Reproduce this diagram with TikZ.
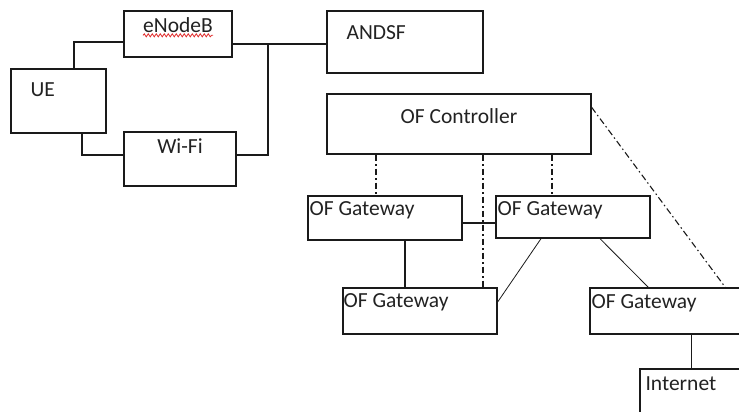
\documentclass[tikz,border=0pt]{standalone}
\usepackage{fontspec}
\setmainfont{Carlito}
\usetikzlibrary{positioning,decorations.pathmorphing}
\definecolor{boxline}{HTML}{1a1a1a}
\definecolor{textcolor}{HTML}{222222}
\definecolor{spellred}{HTML}{e03030}

\begin{document}
\begin{tikzpicture}[x=1pt, y=-1pt,
    box/.style = {draw = boxline, rectangle, line width = 1.3pt, inner sep = 0pt},
    txt/.style = {inner sep = 0pt, text = textcolor, font = \fontsize{21.5}{24}\selectfont},
    link/.style = {draw = boxline, line width = 1.1pt},
    ctl/.style = {draw = boxline, line width = 1.1pt, dash pattern = on 6.5pt off 3pt on 1.5pt off 3pt}]
        \useasboundingbox (0, 0) rectangle (739, 412);
        \clip (0, 0) rectangle (739, 412);

        % Nodes
        \node [box, minimum width = 95pt, minimum height = 64pt] (ue) at (58.5, 101) {};
        \node [box, minimum width = 108pt, minimum height = 46pt] (enb) at (178, 34) {};
        \node [box, minimum width = 112pt, minimum height = 54pt] (wifi) at (180, 159) {};
        \node [box, minimum width = 156pt, minimum height = 62pt] (andsf) at (405, 42) {};
        \node [box, minimum width = 264pt, minimum height = 60pt] (ctrl) at (459, 124) {};
        \node [box, minimum width = 154pt, minimum height = 44pt] (gw1) at (385, 218) {};
        \node [box, minimum width = 154pt, minimum height = 42pt] (gw2) at (573, 217) {};
        \node [box, minimum width = 154pt, minimum height = 46pt] (gw3) at (420, 311) {};
        \node [box, minimum width = 154pt, minimum height = 46pt] (gw4) at (667, 311) {};
        \node [box, minimum width = 120pt, minimum height = 46pt] (inet) at (700, 392) {};

        % Box texts
        \node [txt, anchor = north, below = 7pt of enb.north] (enbt) {eNodeB};
        \node [txt, below right = 14pt and 20pt of ue.north west] (uet) {UE};
        \node [txt, anchor = north, below = 7pt of wifi.north] (wifit) {Wi-Fi};
        \node [txt, below right = 15pt and 20pt of andsf.north west] (andsft) {ANDSF};
        \node [txt, anchor = north, below = 15pt of ctrl.north] (ctrlt) {OF Controller};
        \node [txt, below right = 6pt and 2pt of gw1.north west] (gw1t) {OF Gateway};
        \node [txt, below right = 6pt and 2pt of gw2.north west] (gw2t) {OF Gateway};
        \node [txt, below right = 6pt and 1pt of gw3.north west] (gw3t) {OF Gateway};
        \node [txt, below right = 7pt and 2pt of gw4.north west] (gw4t) {OF Gateway};
        \node [txt, below right = 8pt and 6pt of inet.north west] (inett) {Internet};

        % spell check mark under eNodeB
        \draw [spellred, line width = 0.8pt, decorate, decoration = {snake, amplitude = 1.5pt, segment length = 4pt}]
            ([yshift = -2.5pt]enbt.south west) -- ([yshift = -2.5pt]enbt.south east);

        % Access links
        \coordinate (tap) at (268, 44);
        \draw [link] ([xshift = 15.5pt]ue.north) |- ([yshift = -8pt]enb.west);
        \draw [link] ([xshift = 23.5pt]ue.south) |- ([yshift = 4pt]wifi.west);
        \draw [link] ([yshift = -10pt]enb.east) -- ([yshift = -2pt]andsf.west);
        \draw [link] ([yshift = 4pt]wifi.east) -| (tap);

        % Control links
        \draw [ctl] ([xshift = -83pt]ctrl.south) -- ([xshift = -9pt]gw1.north);
        \draw [ctl] ([xshift = 24pt]ctrl.south) -- ([xshift = 63pt]gw3.north);
        \draw [ctl] ([xshift = 93pt]ctrl.south) -- ([xshift = -21pt]gw2.north);
        \draw [ctl] ([yshift = -14pt]ctrl.north east) -- ([xshift = 136pt]gw4.north west);

        % Data links
        \draw [link] ([yshift = -5pt]gw1.east) -- ([yshift = -6pt]gw2.west);
        \draw [link] ([xshift = 20pt]gw1.south) -- ([xshift = -15pt]gw3.north);
        \draw [link, line width = 0.8pt] ([xshift = -32pt]gw2.south) -- ([yshift = 9pt]gw3.east);
        \draw [link, line width = 0.8pt] ([xshift = 27pt]gw2.south) -- ([xshift = 59pt]gw4.north west);
        \draw [link] ([xshift = 102pt]gw4.south west) -- ([xshift = 52pt]inet.north west);

    \end{tikzpicture}
\end{document}
